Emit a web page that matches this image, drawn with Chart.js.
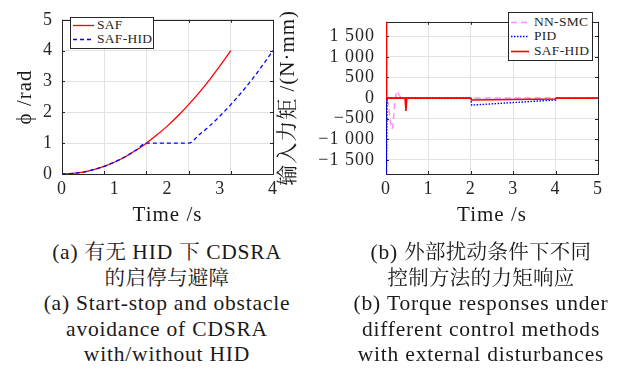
<!DOCTYPE html>
<html>
<head>
<meta charset="utf-8">
<script src="https://cdn.jsdelivr.net/npm/chart.js@4.4.0/dist/chart.umd.min.js"></script>
<style>
  body { margin: 0; width: 626px; height: 374px; background: #fff; position: relative; overflow: hidden;
         font-family: "Liberation Serif", "Noto Serif CJK SC", serif; color: #1a1a1a; }
  canvas { position: absolute; top: 0; }
  #c1 { left: 0; }
  #c2 { left: 276px; }
  .legend { position: absolute; background: #fff; border: 1px solid #262626; box-sizing: border-box; }
  .item { position: absolute; font-size: 13.5px; line-height: 14px; white-space: nowrap; color: #262626; letter-spacing: 0.3px; }
  .item svg { position: absolute; top: 0; }
  .caption { position: absolute; top: 240px; text-align: center; font-size: 21.5px; line-height: 25.5px;
             white-space: nowrap; letter-spacing: 0.8px; }
  .cjk { font-family: "Noto Serif CJK SC", serif; font-size: 20.5px; letter-spacing: 0.3px; line-height: 0; }
</style>
</head>
<body>
<canvas id="c1" width="313" height="232"></canvas>
<canvas id="c2" width="350" height="232"></canvas>

<div class="caption" style="left:0;width:334px">
  (a) <span class="cjk">有无</span> HID <span class="cjk">下</span> CDSRA<br>
  <span class="cjk">的启停与避障</span><br>
  (a) Start-stop and obstacle<br>
  avoidance of CDSRA<br>
  with/without HID
</div>
<div class="caption" style="left:328px;width:306px">
  (b) <span class="cjk">外部扰动条件下不同</span><br>
  <span class="cjk">控制方法的力矩响应</span><br>
  (b) Torque responses under<br>
  different control methods<br>
  with external disturbances
</div>

<script>
// (a) 关节角 phi
const safTime = [0, 0.2, 0.4, 0.6, 0.8, 1.0, 1.2, 1.4, 1.6, 1.8, 2.0, 2.2, 2.4, 2.6, 2.8, 3.0, 3.2];
const safPhi  = [0, 0.02, 0.06, 0.14, 0.25, 0.39, 0.56, 0.77, 1.0, 1.27, 1.56, 1.89, 2.25, 2.64, 3.06, 3.52, 4.0];
const hidTime = [0, 0.2, 0.4, 0.6, 0.8, 1.0, 1.2, 1.4, 1.6, 2.4, 2.6, 2.8, 3.0, 3.2, 3.4, 3.6, 3.8, 4.0];
const hidPhi  = [0, 0.02, 0.06, 0.14, 0.25, 0.39, 0.56, 0.77, 1.0, 1.0, 1.27, 1.56, 1.89, 2.25, 2.64, 3.06, 3.52, 4.0];
const phiTicks = [0, 1, 2, 3, 4, 5];
const timeTicksA = [0, 1, 2, 3, 4];
const gridTicksA = [0, 0.8, 1.6, 2.4, 3.2, 4.0];

// (b) 力矩 N·mm
const smcTime   = [0, 0.004, 0.02, 0.06, 0.1, 0.14, 0.16, 0.2, 0.24, 0.27, 0.3, 0.36, 5];
const smcTorque = [0, 1800, 0, -200, -550, -750, -700, -200, 130, 170, 90, 0, 0];
const pidTime   = [0, 0.01, 0.03, 0.05, 2.0, 2.02, 4.0, 4.02, 5];
const pidTorque = [0, -1850, 10, 10, 10, -170, -45, 0, 0];
const safHidTime   = [0, 0.006, 0.02, 0.45, 0.47, 0.49, 2.0, 2.02, 4.0, 4.02, 5];
const safHidTorque = [1850, 1850, 0, 0, -310, 0, 0, -45, -20, 0, 0];
const torqueTicks = [-1500, -1000, -500, 0, 500, 1000, 1500];
const timeTicksB = [0, 1, 2, 3, 4, 5];

const gridColor = '#e2e2e2';
const axisColor = '#262626';

Chart.defaults.font.family = '"Liberation Serif", "Noto Serif CJK SC", serif';
Chart.defaults.color = axisColor;

function pts(xs, ys) {
  return xs.map((x, i) => ({ x: x, y: ys[i] }));
}

function fixTicks(arr) {
  return scale => { scale.ticks = arr.map(v => ({ value: v })); };
}

function fmtTorque(v) {
  let s = String(Math.abs(v));
  if (s.length > 3) s = s.slice(0, s.length - 3) + ' ' + s.slice(-3);
  return (v < 0 ? '\u2212' : '') + s;
}

// 坐标框和内向刻度 (MATLAB 风格)
const boxPlugin = {
  id: 'box',
  beforeDraw(chart) {
    chart.ctx.letterSpacing = '1px';
  },
  beforeDatasetsDraw(chart, args, opts) {
    const ctx = chart.ctx, a = chart.chartArea;
    const xs = chart.scales[opts.xTicks], ys = chart.scales.y;
    ctx.save();
    ctx.strokeStyle = axisColor;
    ctx.lineWidth = 1;
    ctx.beginPath();
    xs.ticks.forEach(t => {
      const p = Math.round(xs.getPixelForValue(t.value)) + 0.5;
      ctx.moveTo(p, a.bottom); ctx.lineTo(p, a.bottom - 3);
      ctx.moveTo(p, a.top); ctx.lineTo(p, a.top + 3);
    });
    ys.ticks.forEach(t => {
      const p = Math.round(ys.getPixelForValue(t.value)) + 0.5;
      ctx.moveTo(a.left, p); ctx.lineTo(a.left + 3, p);
      ctx.moveTo(a.right, p); ctx.lineTo(a.right - 3, p);
    });
    ctx.stroke();
    ctx.strokeRect(Math.round(a.left) + 0.5, Math.round(a.top) + 0.5, Math.round(a.width), Math.round(a.height));
    ctx.restore();
  }
};

const tickFont = { size: 18 };
const titleFont = { size: 21, lineHeight: 1.2 };

new Chart(document.getElementById('c1'), {
  type: 'line',
  data: {
    datasets: [
      { label: 'SAF-HID', data: pts(hidTime, hidPhi), borderColor: '#0000ff', borderWidth: 1.3,
        borderDash: [4, 3], pointRadius: 0, cubicInterpolationMode: 'monotone' },
      { label: 'SAF', data: pts(safTime, safPhi), borderColor: '#ff0000', borderWidth: 1.3,
        pointRadius: 0, cubicInterpolationMode: 'monotone' }
    ]
  },
  options: {
    responsive: false,
    animation: false,
    layout: { padding: { left: 0, top: 7, right: 40, bottom: 0 } },
    plugins: { legend: { display: false }, tooltip: { enabled: false }, box: { xTicks: 'xg' } },
    scales: {
      x: {
        type: 'linear', min: 0, max: 4,
        afterBuildTicks: fixTicks(timeTicksA),
        afterFit: s => { s.height = 58; },
        grid: { display: false, drawTicks: false },
        border: { display: false },
        ticks: { font: tickFont, padding: 4, maxRotation: 0 },
        title: { display: true, text: 'Time /s', font: titleFont, padding: { top: 0, bottom: 4 }, color: '#1a1a1a' }
      },
      xg: {
        type: 'linear', position: 'bottom', min: 0, max: 4,
        afterBuildTicks: fixTicks(gridTicksA),
        afterFit: s => { s.height = 0; },
        grid: { color: gridColor, drawTicks: false },
        border: { display: false },
        ticks: { display: false }
      },
      y: {
        min: 0, max: 5,
        afterBuildTicks: fixTicks(phiTicks),
        afterFit: s => { s.width = 62; },
        grid: { color: gridColor, drawTicks: false },
        border: { display: false },
        ticks: { font: tickFont, padding: 9 },
        title: { display: true, text: 'ϕ /rad', font: titleFont, padding: { top: 13, bottom: 0 }, color: '#1a1a1a' }
      }
    }
  },
  plugins: [boxPlugin]
});

new Chart(document.getElementById('c2'), {
  type: 'line',
  data: {
    datasets: [
      { label: 'SAF-HID', data: pts(safHidTime, safHidTorque), borderColor: '#ff0000', borderWidth: 1.6, pointRadius: 0 },
      { label: 'PID', data: pts(pidTime, pidTorque), borderColor: '#0000ff', borderWidth: 1.4,
        borderDash: [1.5, 1.5], pointRadius: 0 },
      { label: 'NN-SMC', data: pts(smcTime, smcTorque), borderColor: '#ff8cff', borderWidth: 1.5,
        borderDash: [6, 4], pointRadius: 0 }
    ]
  },
  options: {
    responsive: false,
    animation: false,
    layout: { padding: { left: 0, top: 7, right: 28, bottom: 0 } },
    plugins: { legend: { display: false }, tooltip: { enabled: false }, box: { xTicks: 'x' } },
    scales: {
      x: {
        type: 'linear', min: 0, max: 5,
        afterBuildTicks: fixTicks(timeTicksB),
        afterFit: s => { s.height = 58; },
        grid: { color: gridColor, drawTicks: false },
        border: { display: false },
        ticks: { font: tickFont, padding: 4, maxRotation: 0 },
        title: { display: true, text: 'Time /s', font: titleFont, padding: { top: 0, bottom: 4 }, color: '#1a1a1a' }
      },
      y: {
        min: -1840, max: 1850,
        afterBuildTicks: fixTicks(torqueTicks),
        afterFit: s => { s.width = 110; },
        grid: { color: gridColor, drawTicks: false },
        border: { display: false },
        ticks: { font: tickFont, padding: 11, callback: v => fmtTorque(v) },
        title: { display: true, text: '输入力矩 /(N·mm)', font: titleFont, padding: { top: 0, bottom: 0 }, color: '#1a1a1a' }
      }
    }
  },
  plugins: [boxPlugin]
});

// 图例 (放在坐标区内)
function addLegend(box, names, colors, dashes, widths, rows, lineX, textX) {
  const div = document.createElement('div');
  div.className = 'legend';
  div.style.left = box[0] + 'px';
  div.style.top = box[1] + 'px';
  div.style.width = box[2] + 'px';
  div.style.height = box[3] + 'px';
  names.forEach((name, i) => {
    const it = document.createElement('div');
    it.className = 'item';
    it.style.left = '0px';
    it.style.top = (rows[i] - 7) + 'px';
    it.innerHTML =
      '<svg width="' + (lineX[1] + 2) + '" height="14"><line x1="' + lineX[0] + '" y1="7.5" x2="' + lineX[1] +
      '" y2="7.5" stroke="' + colors[i] + '" stroke-width="' + widths[i] + '" stroke-dasharray="' + dashes[i] + '"/></svg>' +
      '<span style="position:absolute;left:' + textX + 'px">' + name + '</span>';
    div.appendChild(it);
  });
  document.body.appendChild(div);
}

addLegend([70, 17, 84, 32], ['SAF', 'SAF-HID'], ['#ff0000', '#0000ff'], ['none', '4 3'], [1.3, 1.3],
  [7, 21], [2, 23], 26);
addLegend([508, 12, 85, 49], ['NN-SMC', 'PID', 'SAF-HID'], ['#ff8cff', '#0000ff', '#ff0000'], ['6 4', '1.5 1.5', 'none'],
  [1.5, 1.4, 1.6], [9, 23, 38], [2, 20], 25);
</script>
</body>
</html>
